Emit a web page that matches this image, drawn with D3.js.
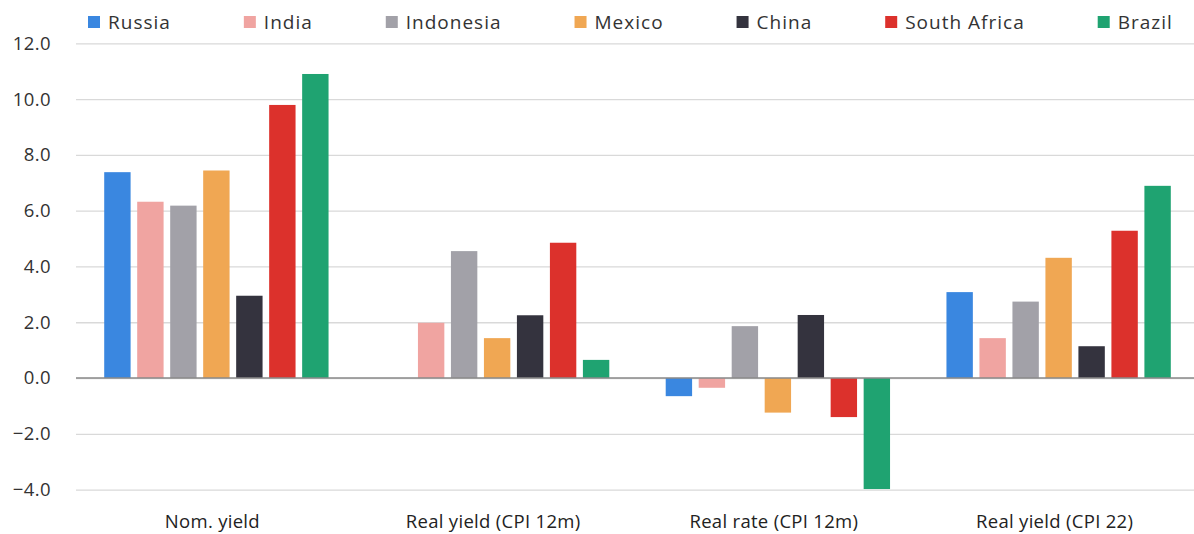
<!DOCTYPE html>
<html>
<head>
<meta charset="utf-8">
<script src="https://cdn.jsdelivr.net/npm/d3@7"></script>
<style>
  body { margin: 0; background: #fff; }
  svg { display: block; font-family: "Open Sans", sans-serif; }
</style>
</head>
<body>
<div id="chart"></div>
<script>
// Chart data.
const categories = ["Nom. yield", "Real yield (CPI 12m)", "Real rate (CPI 12m)", "Real yield (CPI 22)"];
const countries = ["Russia", "India", "Indonesia", "Mexico", "China", "South Africa", "Brazil"];
const russia = [7.38, null, -0.65, 3.08];
const india = [6.32, 1.98, -0.35, 1.43];
const indonesia = [6.18, 4.55, 1.86, 2.74];
const mexico = [7.44, 1.43, -1.24, 4.31];
const china = [2.95, 2.25, 2.26, 1.14];
const southAfrica = [9.79, 4.85, -1.40, 5.28];
const brazil = [10.90, 0.65, -3.98, 6.89];
const yTicks = [-4, -2, 0, 2, 4, 6, 8, 10, 12];

const seriesValues = [russia, india, indonesia, mexico, china, southAfrica, brazil];
const colors = ["#3a87e0", "#f0a4a1", "#a2a1a8", "#f0a753", "#34333e", "#dc312c", "#1fa371"];

const width = 1194;
const height = 534;
const fontSize = "18.5px";

// Declare the scales.
const x0 = d3.scaleBand()
    .domain(categories)
    .range([76, 1199]);

const x1 = d3.scaleBand()
    .domain(countries)
    .range([0, x0.bandwidth()])
    .paddingInner(0.2)
    .paddingOuter(0.855);

const y = d3.scaleLinear()
    .domain([-4, 12])
    .range([489.6, 43.3]);

const color = d3.scaleOrdinal().domain(countries).range(colors);

// Flatten into one row per bar.
const rows = [];
countries.forEach((c, i) => {
    categories.forEach((cat, j) => {
        const v = seriesValues[i][j];
        if (v !== null) rows.push({ country: c, category: cat, value: v });
    });
});

const svg = d3.select("#chart").append("svg")
    .attr("width", width)
    .attr("height", height)
    .attr("viewBox", [0, 0, width, height]);

// Grid lines and y labels.
const yAxis = svg.append("g")
    .attr("transform", "translate(76,0)")
    .call(d3.axisLeft(y).tickValues(yTicks).tickSize(-(width - 76)).tickFormat(d3.format(".1f")).tickPadding(25))
    .call(g => g.select(".domain").remove());

yAxis.selectAll(".tick line")
    .attr("stroke", "#d9d9d9")
    .attr("stroke-width", 1.3);

yAxis.selectAll(".tick text")
    .attr("fill", "#333")
    .style("font-size", fontSize)
    .style("letter-spacing", "0.4px")
    .style("font-family", "'Open Sans', sans-serif");

// Bars.
svg.append("g")
    .selectAll("rect")
    .data(rows)
    .join("rect")
    .attr("x", d => x0(d.category) + x1(d.country))
    .attr("width", x1.bandwidth())
    .attr("y", d => y(Math.max(0, d.value)))
    .attr("height", d => Math.abs(y(d.value) - y(0)))
    .attr("fill", d => color(d.country));

// Zero line.
svg.append("line")
    .attr("x1", 76)
    .attr("x2", width)
    .attr("y1", y(0))
    .attr("y2", y(0))
    .attr("stroke", "#8a8a8a")
    .attr("stroke-width", 1.5);

// Category labels.
svg.append("g")
    .attr("transform", "translate(-4,528)")
    .call(d3.axisBottom(x0).tickSize(0).tickPadding(0))
    .call(g => g.select(".domain").remove())
    .call(g => g.selectAll(".tick text")
        .attr("dy", 0)
        .attr("fill", "#222")
        .style("font-size", fontSize)
        .style("letter-spacing", "0.3px")
        .style("font-family", "'Open Sans', sans-serif"));

// Legend laid out left to right with a fixed gap after each label.
const legend = svg.append("g")
    .attr("transform", "translate(88,0)")
    .style("font-size", "19px")
    .style("letter-spacing", "1px")
    .style("font-family", "'Open Sans', sans-serif");

let lx = 0;
countries.forEach(c => {
    const item = legend.append("g").attr("transform", `translate(${lx},0)`);
    item.append("rect")
        .attr("y", 16)
        .attr("width", 12)
        .attr("height", 12)
        .attr("fill", color(c));
    const t = item.append("text")
        .attr("x", 20)
        .attr("y", 29)
        .attr("fill", "#333")
        .text(c);
    lx += 20 + t.node().getComputedTextLength() + 73;
});
</script>
</body>
</html>
